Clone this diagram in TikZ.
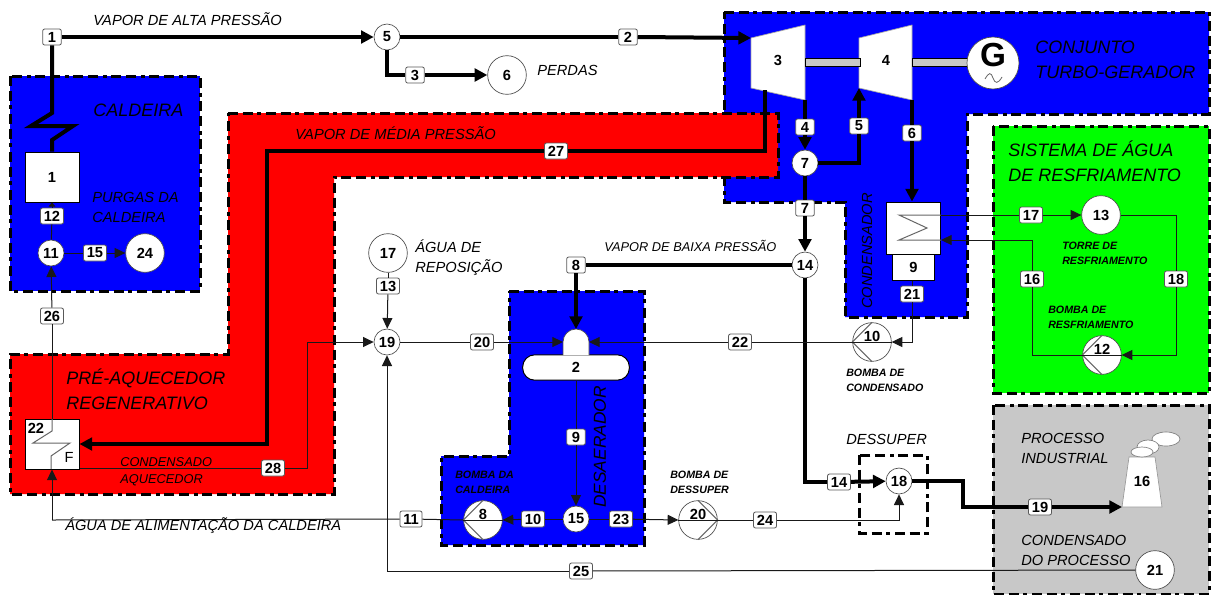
\documentclass[tikz,border=0pt]{standalone}
\usepackage{fontspec}
\setmainfont{Liberation Sans}
\usetikzlibrary{arrows.meta,positioning}

\definecolor{zoneblue}{RGB}{0,0,255}
\definecolor{zonered}{RGB}{255,0,0}
\definecolor{zonegreen}{RGB}{0,255,0}
\definecolor{zonegray}{RGB}{200,200,200}

\begin{document}
\begin{tikzpicture}[
        x=0.75pt,
        y=-0.75pt,
        zone/.style={line width=2.25pt, dash pattern=on 7.5pt off 3.5pt on 7.5pt off 3.5pt on 3pt off 3.5pt},
        water/.style={line width=0.75pt, black!90},
        waterarr/.style={water, -{Triangle[length=8pt,width=7.5pt]}},
        steam/.style={line width=3pt},
        steamarr/.style={steam, -{Triangle[length=9.5pt,width=9.5pt]}},
        tag/.style={draw=black!65, fill=white, rounded corners=1.5pt, line width=0.6pt, inner xsep=2.5pt, inner ysep=0pt, minimum width=14pt, minimum height=12pt, font=\bfseries\fontsize{11}{11}\selectfont},
        junc/.style={circle, draw=black!70, fill=white, line width=0.5pt, inner sep=0pt, minimum size=19.5pt, font=\bfseries\fontsize{11}{11}\selectfont},
        bigjunc/.style={junc, minimum size=29pt},
        pumpc/.style={bigjunc, label={[font=\bfseries\fontsize{11}{11}\selectfont, yshift=4pt]center:#1}},
        vessel/.style={draw=black, fill=white, line width=0.75pt, inner sep=0pt, font=\bfseries\fontsize{11}{11}\selectfont},
        coil/.style={line width=0.75pt, black!60},
        bigtxt/.style={anchor=west, align=left, inner sep=0pt, font=\itshape\fontsize{13.5}{18.75}\selectfont},
        midtxt/.style={anchor=west, align=left, inner sep=0pt, font=\itshape\fontsize{11}{15}\selectfont},
        smalltxt/.style={anchor=west, align=left, inner sep=0pt, font=\bfseries\itshape\fontsize{8}{11.25}\selectfont}
    ]
        \useasboundingbox (0,0) rectangle (1214,594);
        % zones
        \draw[zone, fill=zoneblue] (10,76) rectangle (200,291);
        \draw[zone, fill=zoneblue] (724,12) -- (1209,12) -- (1209,114) -- (967,114) -- (967,317) -- (845,317) -- (845,202) -- (724,202) -- cycle;
        \draw[zone, fill=zonered] (228,113) -- (778,113) -- (778,177) -- (334,177) -- (334,494) -- (10,494) -- (10,354) -- (228,354) -- cycle;
        \draw[zone, fill=zoneblue] (509,291) -- (644,291) -- (644,545) -- (441,545) -- (441,456) -- (509,456) -- cycle;
        \draw[zone, fill=zonegreen] (993,126) rectangle (1209,393);
        \draw[zone, fill=zonegray] (993,405) rectangle (1209,594);
        \draw[zone] (859,455) rectangle (927,533);

        % turbines and generator
        \draw[black!35, fill=white, line width=0.5pt] (751,38) -- (805,25) -- (805,100) -- (751,88) -- cycle;
        \draw[black!35, fill=white, line width=0.5pt] (859,38) -- (912,25) -- (912,100) -- (859,88) -- cycle;
        \draw[black, fill=black!22, line width=0.5pt] (805,58.5) rectangle (860,66.5);
        \draw[black, fill=black!22, line width=0.5pt] (912,58.5) rectangle (968,66.5);
        \node[junc] (gen) [minimum size=39pt] at (993,63) {};
        \node[font=\bfseries\fontsize{25}{25}\selectfont] (genG) at (993,55) {G};
        \draw[black!60, line width=0.6pt] (985,79) .. controls (989,72) and (991,72) .. (993,78) .. controls (995,84) and (998,84) .. (1002,77);
        \node[font=\bfseries\fontsize{11}{11}\selectfont] (tb3) at (778,60) {3};
        \node[font=\bfseries\fontsize{11}{11}\selectfont] (tb4) at (886,60) {4};

        % condenser, deaerator, boiler, heater, process
        \node[vessel, minimum width=31pt, minimum height=19.5pt] (cond9) at (913.5,267) {9};
        \node[vessel, minimum width=41pt, minimum height=39pt] (cond) at (913.5,228) {};
        \node[vessel, rounded corners=9pt, minimum width=80pt, minimum height=19pt] (dea) at (576,367.5) {2};
        \draw[black!70, fill=white, line width=0.5pt] (563,355) -- (563,342) arc (180:360:13) -- (589,355);
        \coordinate (domeW) at (563,342);
        \coordinate (domeE) at (589,342);
        \coordinate (domeT) at (576,329);
        \node[vessel, minimum width=40.5pt, minimum height=37.5pt] (cald) at (52,177) {1};
        \node[vessel, minimum width=40.5pt, minimum height=37.5pt] (heat) at (52,444) {};
        \node[font=\bfseries\fontsize{11}{11}\selectfont] (heatN) at (36,428) {22};
        \node[font=\fontsize{11}{11}\selectfont] (heatF) at (69,457) {F};
        \draw[coil] (52,419) -- (52,431) -- (33,443) -- (70,443) -- (51,456) -- (51,469);
        \draw[coil] (941,215) -- (899,215) -- (927,228) -- (899,240) -- (941,240);

        \draw[black!40, fill=white, line width=0.5pt] (1122,507) -- (1162,507) -- (1155,457) -- (1129,457) -- cycle;
        \draw[black!50, fill=white, line width=0.5pt] (1166,439) ellipse [x radius=14, y radius=7];
        \draw[black!50, fill=white, line width=0.5pt] (1148,447) ellipse [x radius=11, y radius=7];
        \draw[black!50, fill=white, line width=0.5pt] (1142,452) ellipse [x radius=11, y radius=5];
        \node[font=\bfseries\fontsize{11}{11}\selectfont] (tow) at (1142,481) {16};

        % stream tags
        \foreach \nam/\x/\y/\lab in {t1/52/37/1,t2/628/37/2,t3/415/75/3,t4/805/127/4,t5/859/126/5,t6/912/133/6,
            t7/805/208/7,t8/576/265/8,t9/576/437/9,t10/533/519/10,t11/411/519/11,t12/52/216/12,t13/388/286/13,
            t14/839/482/14,t15/95/253/15,t16/1032/279/16,t17/1031/215/17,t18/1176/279/18,t19/1040/507/19,
            t20/482/342/20,t21/912/294/21,t22/740/342/22,t23/621/519/23,t24/765/520/24,t25/581/571/25,
            t26/52/316/26,t27/556/151/27,t28/273/468/28}{
            \node[tag] (\nam) at (\x,\y) {\lab};
        }
        % junctions
        \foreach \nam/\x/\y/\lab in {c5/387/37/5,c7/805/163/7,c11/51/253/11,c14/805/265/14,c15/576/519/15,c18/899/481/18,c19/387/342/19}{
            \node[junc] (\nam) at (\x,\y) {\lab};
        }
        \foreach \nam/\x/\y/\lab in {c6/507/75/6,c24/145/253/24,c17/388/253/17,c13/1101/215/13,c21/1155/570/21}{
            \node[bigjunc] (\nam) at (\x,\y) {\lab};
        }
        % pumps
        \foreach \nam/\x/\y/\lab in {p8/483/520/8,p10/872/342/10,p12/1102/355/12,p20/698/520/20}{
            \node[pumpc=\lab] (\nam) at (\x,\y) {};
        }
        \foreach \nam/\ang in {p8/180,p10/180,p12/180,p20/0}{
            \draw[coil] (\nam.90) -- (\nam.\ang) -- (\nam.270);
            \draw[water] (\nam.180) -- (\nam.0);
        }

        % bends
        \coordinate (zzA) at (52,113);
        \coordinate (zzB) at (31,126);
        \coordinate (zzC) at (73,126);
        \coordinate (zzD) at (52,140);
        \coordinate (ext3) at (765,90);
        \coordinate (tb3in) at (751,38);
        \coordinate (tb3out) at (805,100);
        \coordinate (tb4in) at (859,88);
        \coordinate (tb4out) at (912,100);
        \coordinate (midA) at (267,151);
        \coordinate (twrIn) at (1122,507);
        \coordinate (dsA) at (963,481);
        \coordinate (r28) at (307,468);
        \coordinate (lowA) at (52,520);
        \coordinate (lowB) at (387,571);
        \coordinate (lowC) at (805,482);
        \coordinate (rfA) at (1176,215);
        \coordinate (rfB) at (1176,355);
        \coordinate (rfC) at (1032,355);
        \coordinate (rfD) at (1032,240);
        \coordinate (cdOut) at (941,215);
        \coordinate (cdIn) at (941,240);

        % steam lines
        \draw[steam, line join=miter] (t1) -- (zzA) -- (zzB) -- (zzC) -- (zzD) -- (zzD|-cald.north);
        \draw[steamarr] (t1) -- (c5);
        \draw[steam] (c5) -- (t2);
        \draw[steamarr] (t2.east) -- (tb3in);
        \draw[steam] (c5.south) |- (t3.west);
        \draw[steamarr] (t3) -- (c6);
        \draw[steam] (ext3) |- (t27.east);
        \draw[steamarr] (t27.west) -- (midA) |- (heat.east);
        \draw[steam] (tb3out) -- (t4);
        \draw[steamarr] (t4) -- (c7);
        \draw[steam] (c7.east) -| (t5.south);
        \draw[steamarr] (t5) -- (tb4in);
        \draw[steam] (tb4out) -- (t6);
        \draw[steamarr] (t6) -- (t6|-cond.north);
        \draw[steam] (c7) -- (t7);
        \draw[steamarr] (t7) -- (c14);
        \draw[steam] (c14) -- (t8);
        \draw[steamarr] (t8) -- (domeT);
        \draw[steam] (c14) -- (lowC) -- (t14.west);
        \draw[steamarr] (t14) -- (c18);
        \draw[steam] (c18) -- (dsA) |- (t19.west);
        \draw[steamarr] (t19) -- (twrIn);

        % water lines
        \draw[water, -{Triangle[length=3pt,width=5pt]}] (t12) -- (t12|-cald.south);
        \draw[water] (c11) -- (t12);
        \draw[water] (c11) -- (t15);
        \draw[waterarr] (t15) -- (c24);
        \draw[waterarr] (t26) -- (c11);
        \draw[water] (heat.north) -- (t26);
        \draw[waterarr] (lowA) -- (heat.south);
        \draw[water] (t11) -- (lowA);
        \draw[water] (p8.180) -- (t11);
        \draw[waterarr] (t10) -- (p8.0);
        \draw[water] (c15) -- (t10);
        \draw[water] (c15) -- (t23);
        \draw[waterarr] (t23) -- (p20.180);
        \draw[water] (p20.0) -- (t24);
        \draw[waterarr] (t24) -| (c18.south);
        \draw[water] (dea.south) -- (t9);
        \draw[waterarr] (t9) -- (c15);
        \draw[water] (heat.east|-t28) -- (t28);
        \draw[waterarr] (t28) -- (r28) |- (c19.west);
        \draw[water] (c17) -- (t13);
        \draw[waterarr] (t13) -- (c19);
        \draw[water] (c19) -- (t20);
        \draw[waterarr] (t20) -- (domeW);
        \draw[waterarr] (t22) -- (domeE);
        \draw[water] (p10.180) -- (t22);
        \draw[water] (t21|-cond9.south) -- (t21);
        \draw[waterarr] (t21) |- (p10.0);
        \draw[water] (c21) -- (t25);
        \draw[waterarr] (t25) -- (lowB) -- (c19.south);
        \draw[water] (cdOut) -- (t17);
        \draw[waterarr] (t17) -- (c13);
        \draw[water] (c13) -- (rfA) -- (t18);
        \draw[waterarr] (t18) -- (rfB) -- (p12.0);
        \draw[water] (p12.180) -- (rfC) -- (t16);
        \draw[waterarr] (t16) -- (rfD) -- (cdIn);

        % labels
        \node[bigtxt] (lCald) at (93,110) {CALDEIRA};
        \node[bigtxt] (lConj) at (1035,59.5) {CONJUNTO\\TURBO-GERADOR};
        \node[bigtxt] (lSis) at (1008,161) {SISTEMA DE ÁGUA\\DE RESFRIAMENTO};
        \node[bigtxt] (lPre) at (66,389) {PRÉ-AQUECEDOR\\REGENERATIVO};
        \node[midtxt] (lAlta) at (93,19) {VAPOR DE ALTA PRESSÃO};
        \node[midtxt] (lPerd) at (537,70) {PERDAS};
        \node[midtxt] (lMedia) at (295,133) {VAPOR DE MÉDIA PRESSÃO};
        \node[midtxt] (lPurg) at (92,207) {PURGAS DA\\CALDEIRA};
        \node[midtxt] (lRepo) at (415,258) {ÁGUA DE\\REPOSIÇÃO};
        \node[midtxt, font=\itshape\fontsize{9.6}{12}\selectfont] (lBaixa) at (604,246) {VAPOR DE BAIXA PRESSÃO};
        \node[midtxt] (lAlim) at (65,526) {ÁGUA DE ALIMENTAÇÃO DA CALDEIRA};
        \node[midtxt] (lDes) at (846,439) {DESSUPER};
        \node[midtxt] (lProc) at (1021,448) {PROCESSO\\INDUSTRIAL};
        \node[midtxt] (lCdP) at (1021,550) {CONDENSADO\\DO PROCESSO};
        \node[midtxt, font=\itshape\fontsize{9.6}{12.75}\selectfont] (lCdA) at (120,471.5) {CONDENSADO\\AQUECEDOR};
        \node[smalltxt] (lBcald) at (455,482.5) {BOMBA DA\\CALDEIRA};
        \node[smalltxt] (lBdes) at (670,482.5) {BOMBA DE\\DESSUPER};
        \node[smalltxt] (lBcond) at (846,380) {BOMBA DE\\CONDENSADO};
        \node[smalltxt] (lTorre) at (1062,253.5) {TORRE DE\\RESFRIAMENTO};
        \node[smalltxt] (lBres) at (1048,317.5) {BOMBA DE\\RESFRIAMENTO};
        \node[font=\itshape\fontsize{13}{13}\selectfont, rotate=90] (lDea) at (600,447) {DESAERADOR};
        \node[font=\itshape\fontsize{11}{11}\selectfont, rotate=90] (lCond) at (867,251) {CONDENSADOR};
    \end{tikzpicture}
\end{document}
